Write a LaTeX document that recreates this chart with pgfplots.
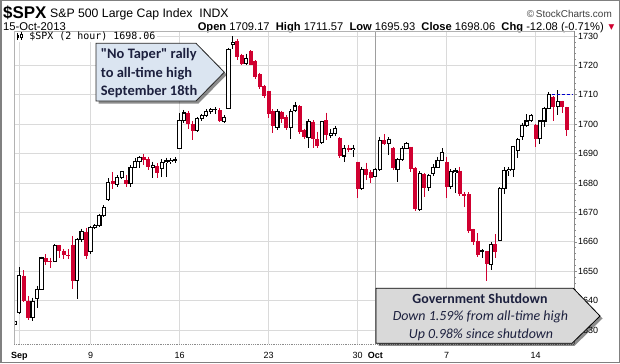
\documentclass[border=0pt]{standalone}
\usepackage{fontspec}
\setmainfont{Liberation Sans}
\newfontfamily\calibri{Carlito}
\newfontfamily\mono{DejaVu Sans Mono}
\newfontfamily\dejavu{DejaVu Sans}
\usepackage{pgfplots}
\pgfplotsset{compat=1.18}
\usepackage{pgfplotstable}
\usetikzlibrary{shadows}

\definecolor{cred}{RGB}{208,0,48}
\definecolor{gridc}{RGB}{218,218,218}
\definecolor{bluefill}{RGB}{219,229,241}
\definecolor{grayfill}{RGB}{217,217,217}
\definecolor{navy}{RGB}{28,32,62}

% i = 2-hour bar index (0 = first bar of Sep 3), open high low close
\pgfplotstableread{
i o h l c
-1 1631.9 1635.5 1628.0 1633.0
0 1636.0 1651.3 1635.5 1648.5
3 1634.3 1641.0 1633.1 1639.8
4 1640.7 1645.0 1637.4 1643.8
5 1643.8 1655.0 1643.5 1654.5
8 1653.3 1659.2 1653.1 1658.8
13 1646.7 1661.3 1640.6 1660.8
14 1660.8 1664.5 1660.0 1663.5
16 1656.6 1665.5 1656.0 1665.0
17 1665.0 1666.0 1664.2 1665.4
18 1665.4 1669.5 1665.0 1669.0
19 1669.0 1672.4 1668.5 1671.7
20 1674.3 1681.6 1674.0 1680.2
22 1679.5 1682.7 1678.7 1681.8
23 1681.8 1684.1 1681.5 1683.9
25 1679.9 1686.0 1678.5 1685.3
26 1685.3 1688.4 1685.0 1687.3
27 1687.3 1689.1 1685.0 1688.8
30 1685.3 1687.3 1681.8 1686.1
32 1684.8 1688.0 1682.0 1687.0
33 1687.0 1688.6 1682.2 1687.5
34 1687.3 1688.5 1686.5 1687.7
35 1687.8 1688.7 1686.8 1688.0
36 1691.7 1703.7 1691.5 1701.2
37 1701.2 1704.9 1700.5 1703.8
40 1697.8 1702.5 1697.5 1701.8
41 1701.8 1703.5 1701.0 1702.9
42 1702.9 1705.0 1702.5 1704.4
43 1704.2 1705.5 1703.5 1704.9
44 1704.9 1705.8 1703.5 1705.0
46 1701.0 1703.1 1700.3 1702.3
47 1705.4 1726.0 1705.0 1725.5
48 1727.1 1729.9 1725.6 1727.8
51 1720.5 1724.0 1720.0 1722.3
58 1698.9 1705.0 1698.0 1704.3
61 1698.9 1705.0 1694.9 1704.3
62 1704.6 1707.6 1704.0 1706.2
65 1695.5 1701.7 1691.9 1700.9
68 1693.7 1701.2 1693.1 1700.9
70 1696.3 1698.2 1695.2 1696.9
71 1696.9 1699.4 1696.0 1698.6
73 1689.2 1692.9 1687.3 1691.8
75 1691.4 1693.0 1689.0 1691.8
77 1678.2 1685.5 1677.5 1684.7
80 1682.2 1685.0 1682.0 1684.6
81 1684.6 1695.8 1684.0 1694.4
83 1693.5 1695.5 1689.5 1694.9
85 1684.6 1688.5 1680.3 1688.0
86 1688.0 1692.6 1687.5 1691.8
87 1691.8 1693.9 1691.5 1693.5
90 1671.0 1684.0 1670.5 1683.3
92 1678.4 1683.0 1677.3 1682.7
93 1683.3 1686.5 1682.5 1685.3
94 1685.3 1689.0 1685.0 1687.8
95 1687.8 1691.9 1687.5 1690.4
97 1678.8 1684.6 1678.0 1683.9
98 1683.6 1685.0 1676.5 1684.1
104 1656.6 1657.5 1654.5 1656.9
106 1652.3 1660.0 1650.4 1659.2
108 1660.4 1678.5 1660.4 1678.2
109 1678.2 1685.3 1676.2 1684.2
110 1684.2 1685.5 1682.4 1684.6
111 1684.6 1692.6 1682.0 1692.5
112 1691.0 1695.2 1688.5 1694.8
113 1695.8 1700.5 1694.7 1699.7
114 1699.7 1703.3 1699.0 1701.1
115 1701.2 1703.4 1700.8 1703.1
117 1695.0 1701.5 1693.3 1701.1
118 1701.1 1706.0 1699.0 1705.4
119 1705.4 1711.0 1705.0 1710.1
121 1706.0 1711.6 1703.1 1707.7
}\upcandles

\pgfplotstableread{
i o h l c
1 1648.5 1650.3 1639.5 1640.0
2 1640.0 1641.6 1633.4 1634.0
6 1654.5 1655.7 1652.0 1653.3
7 1653.4 1654.6 1651.2 1653.1
9 1658.8 1659.0 1654.6 1657.0
10 1657.0 1657.6 1654.2 1655.4
11 1655.4 1657.4 1654.0 1655.1
12 1659.0 1662.0 1644.0 1646.7
15 1663.5 1664.8 1654.0 1655.2
21 1680.8 1683.8 1678.0 1679.5
24 1681.0 1682.7 1678.7 1679.8
28 1689.0 1689.9 1686.0 1687.8
29 1688.0 1689.0 1684.4 1685.3
31 1685.8 1686.7 1681.6 1683.4
38 1703.8 1704.5 1698.4 1700.1
39 1700.1 1701.0 1694.6 1697.6
45 1704.8 1705.5 1700.6 1701.0
49 1728.2 1729.0 1722.0 1722.7
50 1723.5 1724.0 1720.2 1720.5
52 1724.8 1725.2 1720.0 1720.3
53 1721.4 1721.8 1715.5 1716.0
54 1717.0 1717.5 1712.0 1712.5
55 1713.0 1713.5 1708.9 1709.7
56 1711.4 1711.4 1702.0 1703.5
57 1704.6 1705.0 1697.1 1699.5
59 1704.3 1704.6 1700.3 1701.8
60 1702.3 1703.0 1698.0 1698.6
63 1706.2 1706.5 1696.5 1697.3
64 1698.0 1698.5 1694.8 1695.5
66 1700.9 1701.3 1692.0 1694.8
67 1694.8 1697.5 1692.0 1692.7
69 1701.4 1703.9 1694.6 1696.3
72 1695.2 1695.5 1688.5 1689.2
74 1691.8 1693.0 1690.5 1691.2
76 1687.3 1687.3 1675.0 1677.8
78 1684.8 1686.9 1681.0 1682.7
79 1683.9 1684.5 1680.0 1681.6
82 1694.6 1696.5 1693.0 1693.3
84 1692.0 1692.3 1684.5 1685.0
88 1692.4 1692.4 1683.8 1684.6
89 1685.0 1685.5 1670.4 1671.0
91 1683.0 1683.5 1675.1 1678.4
96 1687.2 1689.0 1675.0 1678.8
99 1684.2 1685.6 1675.5 1676.1
100 1676.2 1676.8 1672.0 1675.6
101 1676.2 1676.8 1663.0 1663.8
102 1664.3 1664.5 1659.0 1659.8
103 1660.3 1662.9 1655.0 1655.4
105 1656.9 1657.0 1646.5 1652.3
107 1659.2 1662.5 1654.4 1656.4
116 1699.8 1700.0 1692.1 1694.8
120 1709.2 1709.5 1701.0 1705.7
122 1707.9 1708.0 1703.7 1705.7
123 1705.7 1706.0 1695.9 1698.1
}\downcandles

\pgfplotsset{
  candle/.style={draw=none, no markers, forget plot,
    error bars/.cd, y dir=minus, y explicit, error mark=none,
    error bar style={#1}},
}

\begin{document}
\begin{tikzpicture}[x=1bp,y=1bp]
\useasboundingbox (0,0) rectangle (620,363);
\fill[white] (0,0) rectangle (620,363);

% header
\node[anchor=base west, inner sep=0pt, font=\bfseries\fontsize{17}{17}\selectfont] at (3,363-18.5) {\$SPX};
\node[anchor=base west, inner sep=0pt, font=\fontsize{12.3}{12.3}\selectfont] at (50,363-17.5) {S\&P 500 Large Cap Index\ \ INDX};
\node[anchor=base east, inner sep=0pt, font=\fontsize{10}{10}\selectfont, text=black!75] at (612,363-17) {\textcopyright\,StockCharts.com};
\node[anchor=base west, inner sep=0pt, font=\fontsize{11.3}{11.3}\selectfont] at (3,363-30) {15-Oct-2013};
\node[anchor=base east, inner sep=0pt, font=\fontsize{11.2}{11.2}\selectfont] at (604,363-30) {\textbf{Open} 1709.17\ \ \textbf{High} 1711.57\ \ \textbf{Low} 1695.93\ \ \textbf{Close} 1698.06\ \ \textbf{Chg} -12.08 (-0.71\%)};
\node[anchor=base, inner sep=0pt, text=cred, font=\dejavu\fontsize{7.5}{7.5}\selectfont] at (611.5,363-29) {▼};

\begin{axis}[
  at={(14bp,19bp)}, anchor=south west,
  scale only axis, width=560bp, height=313bp,
  xmin=-1.19, xmax=124.65, ymin=1625.24, ymax=1731.7,
  axis line style={draw=none},
  xtick={0,16,36,56,76,96,116},
  xticklabels={\textbf{Sep},9,16,23,30,7,14},
  extra x ticks={80}, extra x tick labels={\textbf{Oct}},
  extra x tick style={major grid style={draw=black!38, line width=0.8bp}},
  xmajorgrids, ymajorgrids,
  grid style={draw=gridc, line width=0.8bp},
  xtick style={draw=none},
  ytick={1630,1640,...,1730},
  ytick pos=right, yticklabel pos=right,
  tick align=outside,
  major tick length=3bp, minor tick length=1.5bp,
  minor y tick num=4,
  ytick style={draw=black!45, line width=0.6bp},
  yticklabel style={font=\fontsize{9}{9}\selectfont, anchor=west, inner sep=0pt, xshift=1bp},
  xticklabel style={font=\fontsize{9}{9}\selectfont, anchor=base, inner sep=0pt, yshift=-11bp},
  /pgf/number format/1000 sep={},
  /pgf/number format/assume math mode=true,
]
% down candles: wicks then filled bodies
\addplot[candle={draw=cred, line width=1bp}]
  table[x=i, y=h, y error expr=\thisrow{h}-\thisrow{l}] {\downcandles};
\addplot[candle={draw=cred, line width=4.0bp}]
  table[x=i, y=o, y error expr={max(\thisrow{o}-\thisrow{c},0.35)}] {\downcandles};
% up candles: wicks, black outline, white inside
\addplot[candle={draw=black, line width=1bp}]
  table[x=i, y=h, y error expr=\thisrow{h}-\thisrow{l}] {\upcandles};
\addplot[candle={draw=black, line width=4.3bp}]
  table[x=i, y expr=\thisrow{c}+0.19, y error expr=\thisrow{c}-\thisrow{o}+0.38] {\upcandles};
\addplot[candle={draw=white, line width=2.1bp}]
  table[x=i, y expr=\thisrow{c}-0.19, y error expr={max(\thisrow{c}-\thisrow{o}-0.38,0)}] {\upcandles};
% dashed marker at 1710
\addplot[draw=blue!80!black, no markers, dash pattern=on 3bp off 2bp, line width=0.8bp, forget plot]
  coordinates {(119.6,1710) (124.1,1710)};
\end{axis}

% plot frame
\draw[draw=black!30, line width=0.8bp] (14,19) -- (14,332) -- (574,332);
\draw[draw=black!45, line width=0.8bp] (574,19) -- (574,332);
\draw[draw=black!45, line width=0.8bp, densely dotted] (14,19) -- (574,19);

% series label inside the plot
\fill[white] (15,363-31.5) rectangle (157,363-42);
\draw[line width=0.7bp] (17.5,363-32.5) -- (17.5,363-40);
\fill (16.5,363-35) rectangle (18.5,363-38);
\draw[line width=0.7bp] (21,363-32) -- (21,363-39.5);
\draw[line width=0.6bp, fill=white] (20.1,363-34) rectangle (21.9,363-37);
\node[anchor=west, inner sep=0pt, font=\mono\fontsize{10}{10}\selectfont] at (29.3,363-36.5) {\$SPX (2 hour) 1698.06};

% callout: No Taper
\path[drop shadow={shadow xshift=2.5bp, shadow yshift=-2.5bp, opacity=0.45, fill=black},
  fill=bluefill, draw=black!85, line width=0.8bp]
  (96,363-43.3) -- (196,363-43.3) -- (224.3,363-72.2) -- (196,363-101) -- (96,363-101) -- cycle;
\begin{scope}[every node/.style={anchor=base west, inner sep=0pt, text=navy, font=\calibri\bfseries\fontsize{14.5}{14.5}\selectfont}]
\node at (100.7,363-58.8) {"No Taper" rally};
\node at (100.7,363-77.1) {to all-time high};
\node at (100.7,363-95.5) {September 18th};
\end{scope}

% callout: Government Shutdown
\path[drop shadow={shadow xshift=2.5bp, shadow yshift=-2.5bp, opacity=0.45, fill=black},
  fill=grayfill, draw=black, line width=0.8bp]
  (376,363-288.3) -- (573.3,363-288.3) -- (600,363-316) -- (572,363-343.3) -- (376,363-343.3) -- cycle;
\node[anchor=base, inner sep=0pt, text=navy, font=\calibri\bfseries\fontsize{14}{14}\selectfont] at (480,363-303) {Government Shutdown};
\node[anchor=base, inner sep=0pt, text=navy, font=\calibri\itshape\fontsize{14}{14}\selectfont] at (480.5,363-320.4) {Down 1.59\% from all-time high};
\node[anchor=base, inner sep=0pt, text=navy, font=\calibri\itshape\fontsize{14}{14}\selectfont] at (481,363-338) {Up 0.98\% since shutdown};

% outer frame
\draw[draw=black!50, line width=1.5bp] (0.75,0.75) rectangle (619.25,362.25);
\end{tikzpicture}
\end{document}
